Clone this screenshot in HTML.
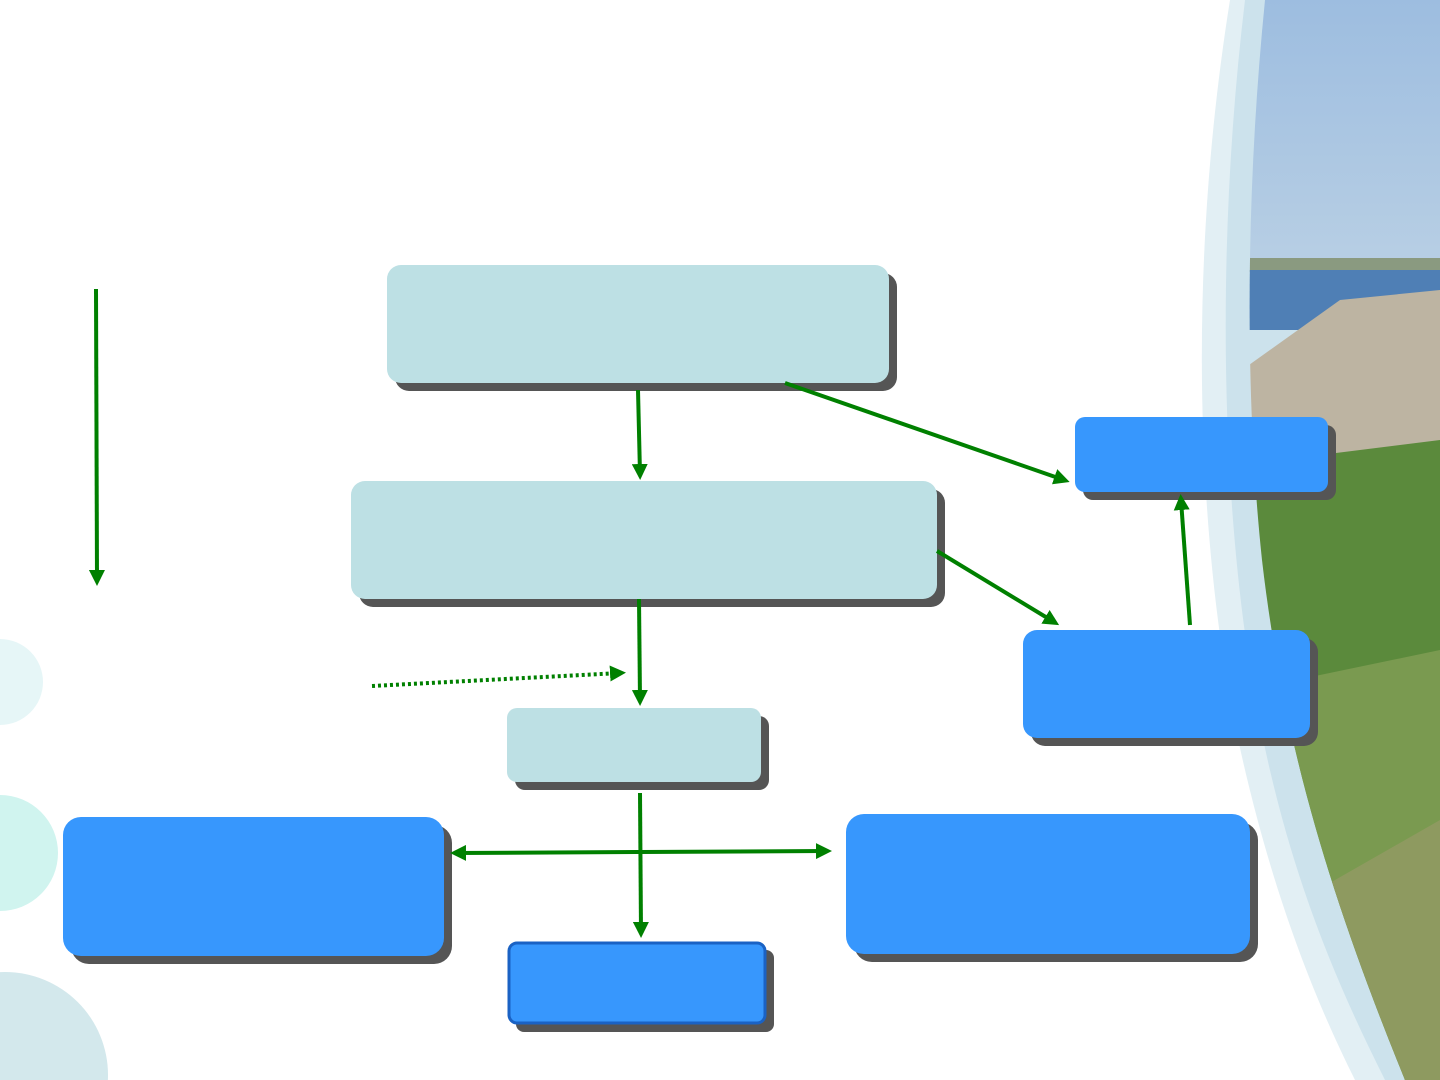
<!DOCTYPE html>
<html><head><style>html,body{margin:0;padding:0;width:1440px;height:1080px;overflow:hidden;background:#fff}svg{display:block}</style></head>
<body>
<svg width="1440" height="1080" viewBox="0 0 1440 1080" xmlns="http://www.w3.org/2000/svg">
<defs>
<clipPath id="ph"><path d="M1265,0 C1245,200 1245,400 1262,560 C1285,760 1340,920 1405,1080 L1440,1080 L1440,0 Z"/></clipPath>
<linearGradient id="sky" x1="0" y1="0" x2="0" y2="1"><stop offset="0" stop-color="#9dbde0"/><stop offset="1" stop-color="#b8cfe4"/></linearGradient>
<marker id="ar" markerWidth="4" markerHeight="4" refX="2.5" refY="2" orient="auto" markerUnits="strokeWidth"><path d="M0,0 L4,2 L0,4 Z" fill="#008000"/></marker>
</defs>
<circle cx="0" cy="682" r="43" fill="#e6f6f7"/>
<circle cx="0" cy="853" r="58" fill="#d0f4ef"/>
<circle cx="5" cy="1075" r="103" fill="#d3e8ec"/>
<path d="M1230,0 C1190,250 1195,500 1230,700 C1265,880 1315,1000 1355,1080 L1440,1080 L1440,0 Z" fill="#e2eff4"/>
<path d="M1245,0 C1215,250 1222,500 1252,680 C1282,860 1335,980 1385,1080 L1440,1080 L1440,0 Z" fill="#cce2ec"/>
<g clip-path="url(#ph)">
<rect x="1200" y="0" width="240" height="270" fill="url(#sky)"/>
<rect x="1200" y="258" width="240" height="14" fill="#8a9a80"/>
<rect x="1200" y="270" width="240" height="60" fill="#4f7fb5"/>
<path d="M1200,400 L1340,300 L1440,290 L1440,480 L1200,480 Z" fill="#bdb4a2"/>
<path d="M1200,470 L1440,440 L1440,1080 L1200,1080 Z" fill="#5b8a3c"/>
<path d="M1200,700 L1440,650 L1440,1080 L1200,1080 Z" fill="#7a9a50"/>
<path d="M1300,900 L1440,820 L1440,1080 L1300,1080 Z" fill="#8e9a60"/>
</g>
<g>
<rect x="395" y="273" width="502" height="118" rx="14" fill="#555"/>
<rect x="387" y="265" width="502" height="118" rx="14" fill="#bde0e4"/>
<rect x="359" y="489" width="586" height="118" rx="14" fill="#555"/>
<rect x="351" y="481" width="586" height="118" rx="14" fill="#bde0e4"/>
<rect x="515" y="716" width="254" height="74" rx="10" fill="#555"/>
<rect x="507" y="708" width="254" height="74" rx="10" fill="#bde0e4"/>
<rect x="1083" y="425" width="253" height="75" rx="10" fill="#555"/>
<rect x="1075" y="417" width="253" height="75" rx="10" fill="#3797fd"/>
<rect x="1031" y="638" width="287" height="108" rx="14" fill="#555"/>
<rect x="1023" y="630" width="287" height="108" rx="14" fill="#3797fd"/>
<rect x="71" y="825" width="381" height="139" rx="18" fill="#555"/>
<rect x="63" y="817" width="381" height="139" rx="18" fill="#3797fd"/>
<rect x="854" y="822" width="404" height="140" rx="18" fill="#555"/>
<rect x="846" y="814" width="404" height="140" rx="18" fill="#3797fd"/>
<rect x="516" y="950" width="258" height="82" rx="8" fill="#555"/>
<rect x="509" y="943" width="256" height="80" rx="8" fill="#3797fd" stroke="#1a62c4" stroke-width="3"/>
</g>
<g stroke="#008000" stroke-width="4" fill="none" marker-end="url(#ar)">
<line x1="96" y1="289" x2="97" y2="580"/>
<line x1="638" y1="390" x2="640" y2="474"/>
<line x1="785" y1="383" x2="1064" y2="480"/>
<line x1="937" y1="551" x2="1054" y2="622"/>
<line x1="1190" y1="625" x2="1181" y2="500"/>
<line x1="639" y1="599" x2="640" y2="700"/>
<line x1="640" y1="793" x2="641" y2="932"/>
<line x1="641" y1="852" x2="826" y2="851"/>
<line x1="641" y1="852" x2="456" y2="853"/>
<line x1="372" y1="686" x2="620" y2="673" stroke-dasharray="3,3"/>
</g>
</svg>
</body></html>
